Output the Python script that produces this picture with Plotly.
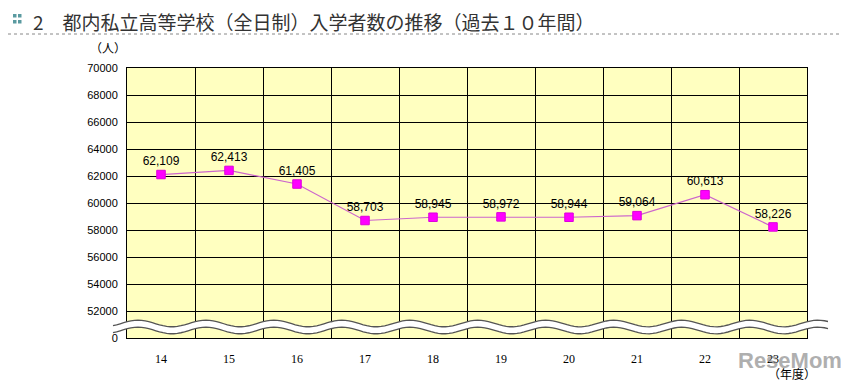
import math
import plotly.graph_objects as go

years = ["14", "15", "16", "17", "18", "19", "20", "21", "22", "23"]
students = [62109, 62413, 61405, 58703, 58945, 58972, 58944, 59064, 60613, 58226]
y_ticks = [50000, 52000, 54000, 56000, 58000, 60000, 62000, 64000, 66000, 68000, 70000]
y_tick_text = ["0", "52000", "54000", "56000", "58000", "60000", "62000", "64000", "66000", "68000", "70000"]
title_text = "2　都内私立高等学校（全日制）入学者数の推移（過去１０年間）"

OFF = 8  # page body margin
W, H = 849 - OFF, 382 - OFF
L, R, T, B = 127 - OFF, 42, 68 - OFF, 44
PW, PH = W - L - R, H - T - B


def px(x):
    return (x - OFF - L) / PW


def py(y):
    return (H - B - (y - OFF)) / PH


fig = go.Figure()
fig.add_trace(go.Scatter(
    x=years, y=students, mode="lines+markers+text",
    line=dict(color="#cc66cc", width=1.2),
    marker=dict(symbol="square", size=8.5, color="#ff00ff", line=dict(color="#dd00dd", width=1)),
    text=[f"{v:,}" for v in students], textposition="top center",
    textfont=dict(family="Liberation Sans", size=12, color="#000"),
    cliponaxis=False, hoverinfo="skip",
))

# wave break
def wave(y0, x0=113, x1=828):
    pts = []
    n = 200
    for i in range(n + 1):
        x = x0 + (x1 - x0) * i / n
        y = y0 - 3.3 * math.cos(2 * math.pi * (x - 138) / 68)
        pts.append((x, y))
    return pts

top = wave(323.5)
bot = wave(330.5)
path = "M " + " L ".join(f"{px(x):.5f},{py(y):.5f}" for x, y in top)
path += " L " + " L ".join(f"{px(x):.5f},{py(y):.5f}" for x, y in reversed(bot)) + " Z"
shapes = [dict(type="path", xref="paper", yref="paper", path=path, fillcolor="white",
               line=dict(width=0), layer="above")]
for curve in (top, bot):
    p = "M " + " L ".join(f"{px(x):.5f},{py(y):.5f}" for x, y in curve)
    shapes.append(dict(type="path", xref="paper", yref="paper", path=p,
                       line=dict(color="#555555", width=1.3), layer="above"))

# title icon (2x2 small squares)
for (sx, sy) in [(13, 14), (18, 14), (13, 20), (18, 20)]:
    shapes.append(dict(type="rect", xref="paper", yref="paper",
                       x0=px(sx), x1=px(sx + 3.5), y0=py(sy), y1=py(sy + 3.5),
                       fillcolor="#5a9aa0", line=dict(width=0)))
# dotted line under title
shapes.append(dict(type="line", xref="paper", yref="paper", x0=px(8), x1=px(849),
                   y0=py(34), y1=py(34), line=dict(color="#888888", width=1, dash="dot")))

annotations = [
    dict(text=title_text, xref="paper", yref="paper", x=px(31), y=py(21),
         xanchor="left", yanchor="middle", showarrow=False,
         font=dict(family="Noto Sans CJK JP", size=19, color="#333333")),
    dict(text="（人）", xref="paper", yref="paper", x=px(108), y=py(48),
         xanchor="center", yanchor="middle", showarrow=False,
         font=dict(family="Noto Sans CJK JP", size=12, color="#000")),
    dict(text="（年度）", xref="paper", yref="paper", x=px(792), y=py(373),
         xanchor="center", yanchor="middle", showarrow=False,
         font=dict(family="Noto Sans CJK JP", size=12, color="#000")),
    dict(text="<b>ReseMom</b>", xref="paper", yref="paper", x=px(790), y=py(360),
         xanchor="center", yanchor="middle", showarrow=False, opacity=0.55,
         font=dict(family="Liberation Sans", size=22, color="#6e6e6e")),
]

fig.update_layout(
    width=W, height=H, margin=dict(l=L, r=R, t=T, b=B),
    paper_bgcolor="white", plot_bgcolor="#ffffc0",
    showlegend=False, shapes=shapes, annotations=annotations,
    xaxis=dict(type="category", tickson="boundaries", showgrid=True, gridcolor="#000",
               gridwidth=1, showline=True, linecolor="#000", linewidth=1, mirror=True,
               ticks="", tickfont=dict(family="Liberation Serif", size=12, color="#000"),
               ticklabelstandoff=10, range=[-0.5, 9.5], fixedrange=True),
    yaxis=dict(range=[50000, 70000], tickvals=y_ticks, ticktext=y_tick_text,
               showgrid=True, gridcolor="#000", gridwidth=1, showline=True,
               linecolor="#000", linewidth=1, mirror=True, zeroline=False,
               tickfont=dict(family="Liberation Sans", size=11, color="#000"),
               ticks="", ticklabelstandoff=6),
)
fig.write_html("out.html")
